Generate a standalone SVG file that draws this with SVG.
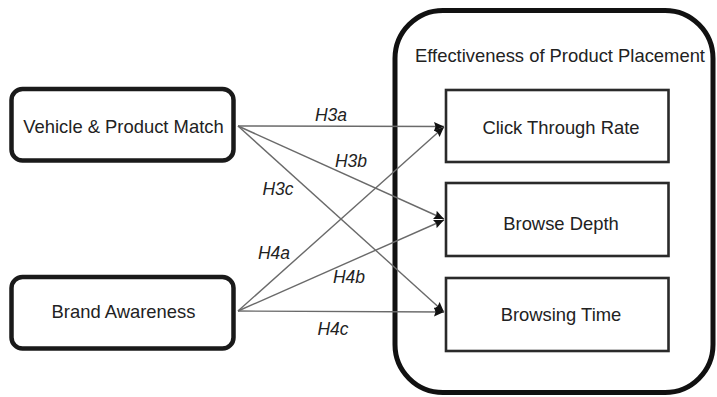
<svg xmlns="http://www.w3.org/2000/svg" width="717" height="397" viewBox="0 0 717 397">
<style>
.t{font-family:"Liberation Sans",Arial,sans-serif;font-size:18.4px;fill:#222;text-anchor:middle}
.h{font-family:"Liberation Sans",Arial,sans-serif;font-size:17.5px;font-style:italic;fill:#222;text-anchor:middle}
.src{fill:#fff;stroke:#1a1a1a;stroke-width:4.5}
.dst{fill:#fff;stroke:#2a2a2a;stroke-width:2.6}
.edge{stroke:#6a6a6a;stroke-width:1.4;fill:none;marker-end:url(#ah)}
</style>
<defs>
<marker id="ah" markerUnits="userSpaceOnUse" viewBox="0 0 10 10" refX="10" refY="5" markerWidth="10" markerHeight="10" orient="auto">
<path d="M0,0.5 L10,5 L0,9.5 L1.5,5 Z" fill="#111"/>
</marker>
</defs>
<rect width="717" height="397" fill="#fff"/>
<g id="container">
<rect x="395" y="10.5" width="318" height="382" rx="48" fill="#fff" stroke="#111" stroke-width="5"/>
<text class="t" x="560" y="62">Effectiveness of Product Placement</text>
</g>
<g id="vpm">
<rect class="src" x="11.5" y="89" width="222" height="71.5" rx="11"/>
<text class="t" x="123.5" y="133">Vehicle &amp; Product Match</text>
</g>
<g id="ba">
<rect class="src" x="11.5" y="277" width="222" height="71.5" rx="11"/>
<text class="t" x="123.5" y="318">Brand Awareness</text>
</g>
<g id="ctr">
<rect class="dst" x="446" y="90" width="222.5" height="72"/>
<text class="t" x="561" y="134">Click Through Rate</text>
</g>
<g id="bd">
<rect class="dst" x="446" y="183" width="222.5" height="73"/>
<text class="t" x="561" y="230">Browse Depth</text>
</g>
<g id="bt">
<rect class="dst" x="446" y="278" width="222.5" height="73"/>
<text class="t" x="561" y="321">Browsing Time</text>
</g>
<g id="connectors">
<line class="edge" x1="238" y1="126" x2="444" y2="126.5"/>
<line class="edge" x1="238" y1="126" x2="444" y2="219"/>
<line class="edge" x1="238" y1="126" x2="444" y2="312"/>
<line class="edge" x1="238" y1="311" x2="444" y2="127"/>
<line class="edge" x1="238" y1="311" x2="444" y2="220"/>
<line class="edge" x1="238" y1="311" x2="444" y2="312"/>
<text class="h" x="331" y="121">H3a</text>
<text class="h" x="351" y="167">H3b</text>
<text class="h" x="278" y="195">H3c</text>
<text class="h" x="274" y="259">H4a</text>
<text class="h" x="349" y="283">H4b</text>
<text class="h" x="333" y="335">H4c</text>
</g>
</svg>
